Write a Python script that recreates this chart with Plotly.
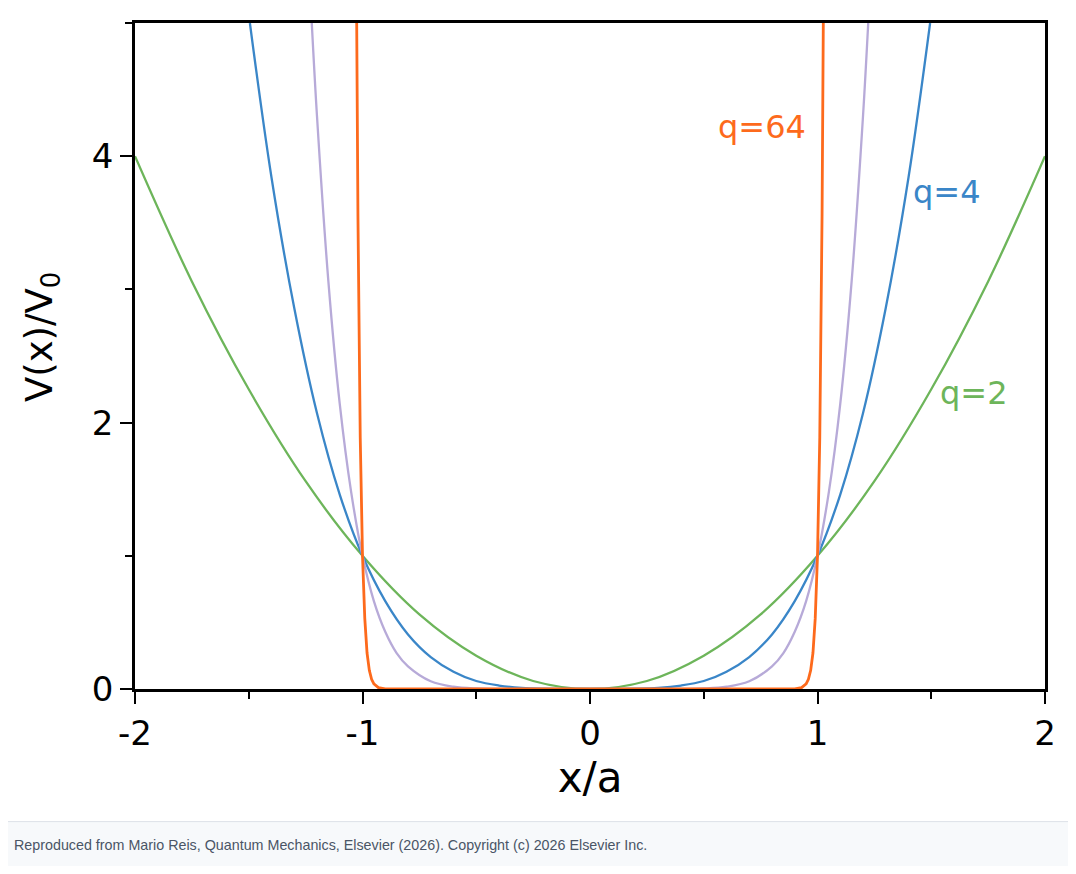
import plotly.graph_objects as go

# --- data: V(x)/V0 vs x/a ---
x_q2 = [-2.0, -1.75, -1.5, -1.25, -1.0, -0.75, -0.5, -0.25, 0.0, 0.25, 0.5, 0.75, 1.0, 1.25, 1.5, 1.75, 2.0]
y_q2 = [4.0, 3.06, 2.25, 1.56, 1.0, 0.56, 0.25, 0.06, 0.0, 0.06, 0.25, 0.56, 1.0, 1.56, 2.25, 3.06, 4.0]

x_q4 = [-1.495, -1.4, -1.3, -1.2, -1.1, -1.0, -0.9, -0.8, -0.7, -0.6, -0.5, -0.4, -0.3, -0.2, 0.0,
        0.2, 0.3, 0.4, 0.5, 0.6, 0.7, 0.8, 0.9, 1.0, 1.1, 1.2, 1.3, 1.4, 1.495]
y_q4 = [5.0, 3.84, 2.86, 2.07, 1.46, 1.0, 0.66, 0.41, 0.24, 0.13, 0.06, 0.026, 0.008, 0.002, 0.0,
        0.002, 0.008, 0.026, 0.06, 0.13, 0.24, 0.41, 0.66, 1.0, 1.46, 2.07, 2.86, 3.84, 5.0]

x_q8 = [-1.223, -1.2, -1.15, -1.1, -1.05, -1.0, -0.95, -0.9, -0.85, -0.8, -0.7, -0.6, -0.5, -0.4, 0.0,
        0.4, 0.5, 0.6, 0.7, 0.8, 0.85, 0.9, 0.95, 1.0, 1.05, 1.1, 1.15, 1.2, 1.223]
y_q8 = [5.0, 4.3, 3.06, 2.14, 1.48, 1.0, 0.66, 0.43, 0.27, 0.17, 0.058, 0.017, 0.004, 0.001, 0.0,
        0.001, 0.004, 0.017, 0.058, 0.17, 0.27, 0.43, 0.66, 1.0, 1.48, 2.14, 3.06, 4.3, 5.0]

x_q64 = [-1.0255, -1.02, -1.01, -1.0, -0.99, -0.98, -0.97, -0.96, -0.95, -0.93, -0.9, -0.85, 0.0,
         0.85, 0.9, 0.93, 0.95, 0.96, 0.97, 0.98, 0.99, 1.0, 1.01, 1.02, 1.0255]
y_q64 = [5.0, 3.55, 1.89, 1.0, 0.53, 0.27, 0.14, 0.073, 0.038, 0.01, 0.001, 0.0, 0.0,
         0.0, 0.001, 0.01, 0.038, 0.073, 0.14, 0.27, 0.53, 1.0, 1.89, 3.55, 5.0]

x_ticks = [-2, -1, 0, 1, 2]
x_ticklabels = ["-2", "-1", "0", "1", "2"]   # ハイフンのまま
y_ticks = [0, 2, 4]
y_ticklabels = ["0", "2", "4"]

GREEN = "#6db55a"
BLUE = "#3a86c8"
LAVENDER = "#b7aad8"
ORANGE = "#fd6a1c"

# ページ座標 (px) -> paper 座標 ; 描画域は x 135..1045, y 21..689
def px(x): return (x - 135) / 910
def py(y): return (689 - y) / 668

fig = go.Figure()
fig.add_trace(go.Scatter(x=x_q2, y=y_q2, mode="lines", line=dict(color=GREEN, width=2.3, shape="spline")))
fig.add_trace(go.Scatter(x=x_q4, y=y_q4, mode="lines", line=dict(color=BLUE, width=2.3, shape="spline")))
fig.add_trace(go.Scatter(x=x_q8, y=y_q8, mode="lines", line=dict(color=LAVENDER, width=2.3, shape="spline")))
fig.add_trace(go.Scatter(x=x_q64, y=y_q64, mode="lines", line=dict(color=ORANGE, width=2.8)))

# ラベル
lab_font = "DejaVu Sans"
fig.add_annotation(x=0.756, y=4.22, text="q=64", showarrow=False, font=dict(family=lab_font, size=32, color=ORANGE))
fig.add_annotation(x=1.569, y=3.73, text="q=4", showarrow=False, font=dict(family=lab_font, size=32, color=BLUE))
fig.add_annotation(x=1.684, y=2.22, text="q=2", showarrow=False, font=dict(family=lab_font, size=32, color=GREEN))

# y 軸タイトル (少し上寄り)
fig.add_annotation(xref="paper", yref="paper", x=px(42), y=py(336), textangle=-90,
                   xanchor="center", yanchor="middle", showarrow=False,
                   text="V(x)/V<sub>0</sub>", font=dict(family=lab_font, size=37, color="black"))

# footer
fig.add_shape(type="rect", xref="paper", yref="paper", x0=-0.2, x1=1.1, y0=-0.3, y1=py(822),
              fillcolor="#f7f9fb", line=dict(width=0), layer="below")
fig.add_shape(type="line", xref="paper", yref="paper", x0=-0.2, x1=1.1, y0=py(822), y1=py(822),
              line=dict(color="#dde2e8", width=1))
fig.add_annotation(xref="paper", yref="paper", x=px(12), y=py(845),
                   xanchor="left", yanchor="middle", showarrow=False,
                   text="Reproduced from Mario Reis, Quantum Mechanics, Elsevier (2026). Copyright (c) 2026 Elsevier Inc.",
                   font=dict(family="Liberation Sans", size=14.3, color="#4a5566"))

axis_common = dict(showline=True, linecolor="black", linewidth=2.5, mirror=True,
                   ticks="outside", ticklen=12, tickwidth=2, tickcolor="black",
                   showgrid=False, zeroline=False, layer="below traces",
                   tickfont=dict(family=lab_font, size=34, color="black"))

# ページ本体に 8px の余白があるので、その分ずらす
fig.update_layout(
    width=1060, height=858,
    margin=dict(l=127, r=23, t=13, b=177),
    paper_bgcolor="white", plot_bgcolor="white",
    showlegend=False,
    xaxis=dict(range=[-2, 2], tickvals=x_ticks, ticktext=x_ticklabels,
               minor=dict(dtick=0.5, tick0=0, ticks="outside", ticklen=7, tickwidth=2, tickcolor="black"),
               title=dict(text="x/a", font=dict(family=lab_font, size=42, color="black"), standoff=10),
               **axis_common),
    yaxis=dict(range=[0, 5], tickvals=y_ticks, ticktext=y_ticklabels,
               minor=dict(dtick=1, tick0=0, ticks="outside", ticklen=7, tickwidth=2, tickcolor="black"),
               **axis_common),
)

fig.write_html("out.html")
